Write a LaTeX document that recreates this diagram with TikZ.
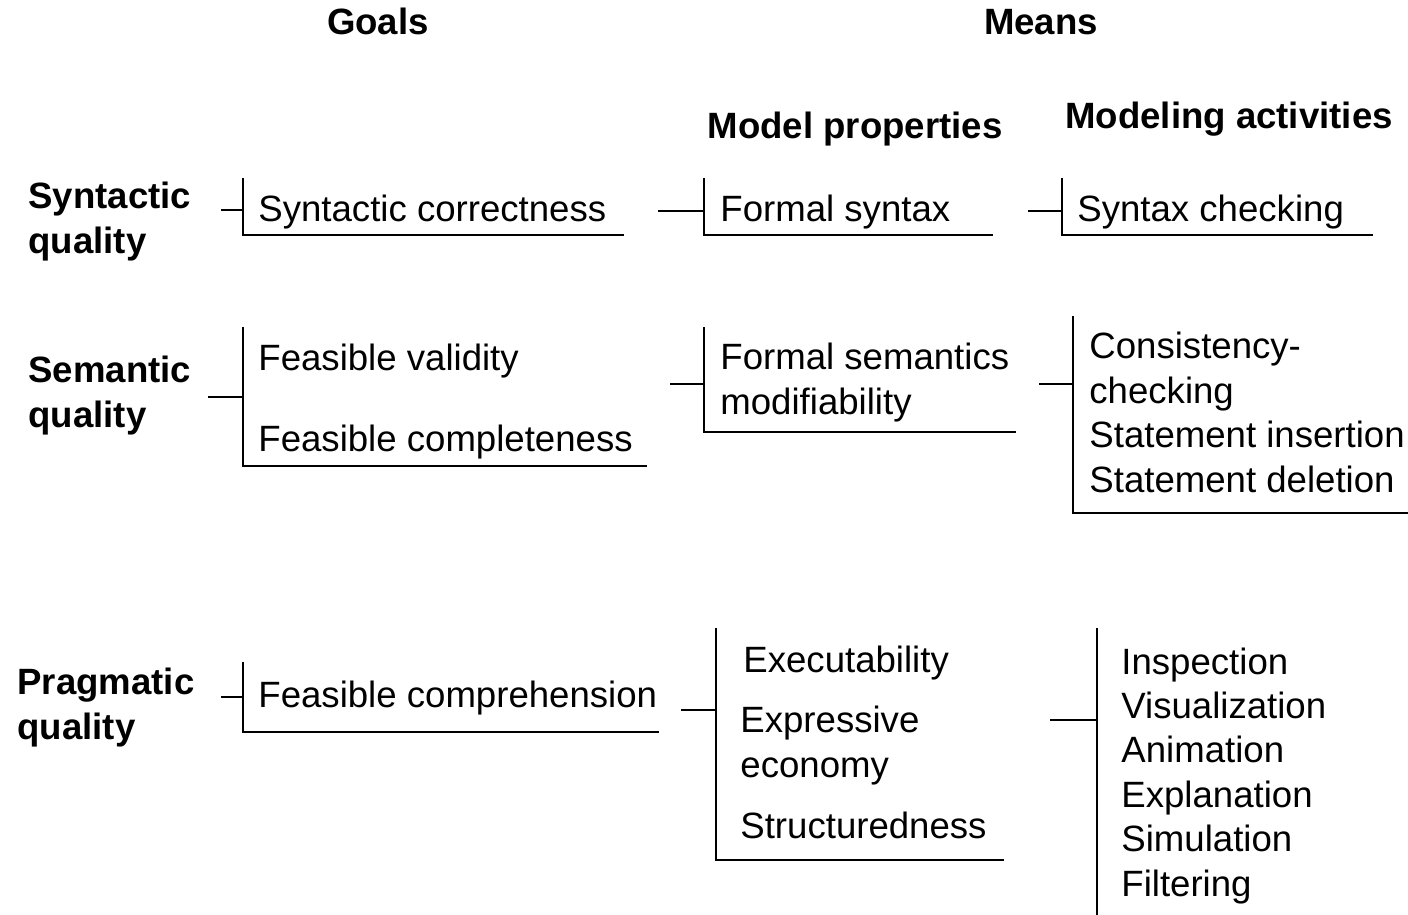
\documentclass[tikz,border=0pt]{standalone}
\usepackage{fontspec}
\setmainfont{Liberation Sans}
\begin{document}
\begin{tikzpicture}[
        x=0.5pt, y=-0.5pt,
        every node/.style={inner sep=0pt, anchor=base west, align=left,
            font=\fontsize{18.3}{22.2}\selectfont},
        head/.style={anchor=base, font=\fontsize{18.3}{22.2}\selectfont\bfseries},
        qual/.style={font=\fontsize{18.3}{22.2}\selectfont\bfseries},
        brack/.style={draw, line width=0.6pt}
    ]
 \useasboundingbox (0,0) rectangle (1408,915);
 % column heads
 \node[head] (goals) at (378,35) {Goals};
 \node[head] (means) at (1041,35) {Means};
 \node[head] (props) at (855,139) {Model properties};
 \node[head] (acts) at (1229,128) {Modeling activities};
 % quality types (placed by last baseline)
 \node[qual] (synq) at (28,253) {Syntactic\\quality};
 \node[qual] (semq) at (28,427) {Semantic\\quality};
 \node[qual] (praq) at (17,739) {Pragmatic\\quality};
 % syntactic row
 \node (syngoal) at (258,221) {Syntactic correctness};
 \node (synprop) at (720,221) {Formal syntax};
 \node (synact) at (1077,221) {Syntax checking};
 % semantic row
 \node (semgoal1) at (258,370) {Feasible validity};
 \node (semgoal2) at (258,451) {Feasible completeness};
 \node (semprop) at (720,414) {Formal semantics\\modifiability};
 \node (semact) at (1089,492) {Consistency-\\checking\\Statement insertion\\Statement deletion};
 % pragmatic row
 \node (pragoal) at (258,707) {Feasible comprehension};
 \node (praprop1) at (743,672) {Executability};
 \node (praprop2) at (740,777) {Expressive\\economy};
 \node (praprop3) at (740,838) {Structuredness};
 \node (praact) at (1121,896) {Inspection\\Visualization\\Animation\\Explanation\\Simulation\\Filtering};
 % brackets
 \foreach \n/\xt/\yt/\yb/\xr/\xm/\ym in {
     a/243/178/235/624/221/210,
     b/704/178/235/993/658/211,
     c/1062/178/235/1373/1028/211,
     d/243/327/466/647/208/397,
     e/704/327/432/1016/670/384,
     f/1073/316/513/1408/1039/384,
     g/243/662/732/659/221/697,
     h/716/628/860/1004/681/710} {
   \coordinate (\n top) at (\xt,\yt);
   \coordinate (\n bot) at (\xt,\yb);
   \coordinate (\n end) at (\xr,\yb);
   \coordinate (\n tick) at (\xm,\ym);
   \draw[brack] (\n top) -- (\n bot) -- (\n end);
   \draw[brack] (\n tick) -- (\n tick -| \n top);
 }
 \coordinate (i top) at (1097,628);
 \coordinate (i bot) at (1097,915);
 \coordinate (i tick) at (1050,720);
 \draw[brack] (i top) -- (i bot);
 \draw[brack] (i tick) -- (i tick -| i top);
\end{tikzpicture}
\end{document}
